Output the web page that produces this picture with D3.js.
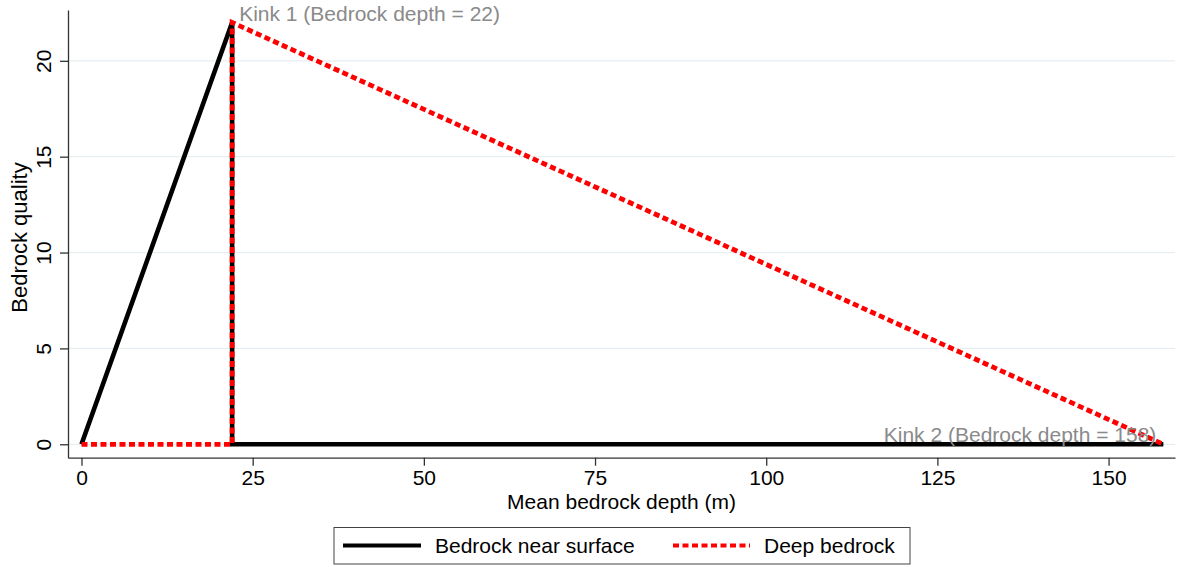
<!DOCTYPE html>
<html><head><meta charset="utf-8">
<script src="https://cdn.jsdelivr.net/npm/d3@7"></script>
<style>body{margin:0;background:#fff;} text{font-family:Arial,"Liberation Sans",sans-serif;}</style>
</head><body>
<svg id="c" width="1178" height="567"></svg>
<script>
const nearX = [0, 22, 22, 158];
const nearY = [0, 22, 0, 0];
const deepX = [0, 22, 22, 158];
const deepY = [0, 0, 22, 0];
const xTicks = [0, 25, 50, 75, 100, 125, 150];
const yTicks = [0, 5, 10, 15, 20];
const seriesNames = ["Bedrock near surface", "Deep bedrock"];
const kinkLabels = ["Kink 1 (Bedrock depth = 22)", "Kink 2 (Bedrock depth = 158)"];
const kinkX = [22, 158];

const FS = 21;
const svg = d3.select("#c");
const L = 68, R = 1175, T = 10, B = 457.7;
const x = d3.scaleLinear().domain([-1.97, 159.7]).range([L, R]);
const y = d3.scaleLinear().domain([-0.7, 22.65]).range([B, T]);

// gridlines
svg.append("g").selectAll("line").data(yTicks).join("line")
  .attr("x1", L).attr("x2", R).attr("y1", d => y(d)).attr("y2", d => y(d))
  .attr("stroke", "#e6eef2").attr("stroke-width", 1.3);

// axes
const xa = svg.append("g").attr("transform", `translate(0,${B})`)
  .call(d3.axisBottom(x).tickValues(xTicks).tickSize(8).tickSizeOuter(0));
const ya = svg.append("g").attr("transform", `translate(${L},0)`)
  .call(d3.axisLeft(y).tickValues(yTicks).tickSize(8).tickSizeOuter(0));
[xa, ya].forEach(a => {
  a.select(".domain").attr("stroke", "#333").attr("stroke-width", 1.3);
  a.selectAll(".tick line").attr("stroke", "#333").attr("stroke-width", 1.3);
  a.selectAll("text").attr("font-size", FS).attr("fill", "#000")
    .attr("font-family", "Arial, 'Liberation Sans', sans-serif");
});
xa.selectAll(".tick text").attr("y", 27).attr("dy", null);
ya.selectAll(".tick text").attr("transform", "rotate(-90)")
  .attr("x", 0).attr("y", -17).attr("dy", null).attr("text-anchor", "middle");

// axis titles
svg.append("text").attr("x", (L + R) / 2).attr("y", 509).attr("text-anchor", "middle")
  .attr("font-size", FS).text("Mean bedrock depth (m)");
svg.append("text").attr("transform", `translate(26.7,237.5) rotate(-90)`)
  .attr("text-anchor", "middle").attr("font-size", 22).text("Bedrock quality");

const line = d3.line().x(d => x(d[0])).y(d => y(d[1]));
const near = nearX.map((v, i) => [v, nearY[i]]);
const deep = deepX.map((v, i) => [v, deepY[i]]);

svg.append("path").attr("d", line(near)).attr("fill", "none")
  .attr("stroke", "#000").attr("stroke-width", 4.6).attr("stroke-linejoin", "miter");
svg.append("path").attr("d", line(deep)).attr("fill", "none")
  .attr("stroke", "#ff0000").attr("stroke-width", 4.8).attr("stroke-dasharray", "6,3.5");

// annotations
svg.append("text").attr("x", x(kinkX[0]) + 7).attr("y", 20.5).attr("font-size", FS)
  .attr("fill", "#8a8a8a").text(kinkLabels[0]);
svg.append("text").attr("x", x(kinkX[1]) - 7).attr("y", 442).attr("text-anchor", "end")
  .attr("font-size", FS).attr("fill", "#8a8a8a").text(kinkLabels[1]);

// legend
const lg = svg.append("g");
lg.append("rect").attr("x", 334).attr("y", 527.5).attr("width", 576).attr("height", 36.5)
  .attr("fill", "#fff").attr("stroke", "#444").attr("stroke-width", 1);
lg.append("line").attr("x1", 343).attr("x2", 421).attr("y1", 545.5).attr("y2", 545.5)
  .attr("stroke", "#000").attr("stroke-width", 4);
lg.append("text").attr("x", 435).attr("y", 553).attr("font-size", FS).text(seriesNames[0]);
lg.append("line").attr("x1", 673).attr("x2", 750).attr("y1", 545.5).attr("y2", 545.5)
  .attr("stroke", "#ff0000").attr("stroke-width", 4).attr("stroke-dasharray", "6,3.5");
lg.append("text").attr("x", 764).attr("y", 553).attr("font-size", FS).text(seriesNames[1]);
</script>
</body></html>
